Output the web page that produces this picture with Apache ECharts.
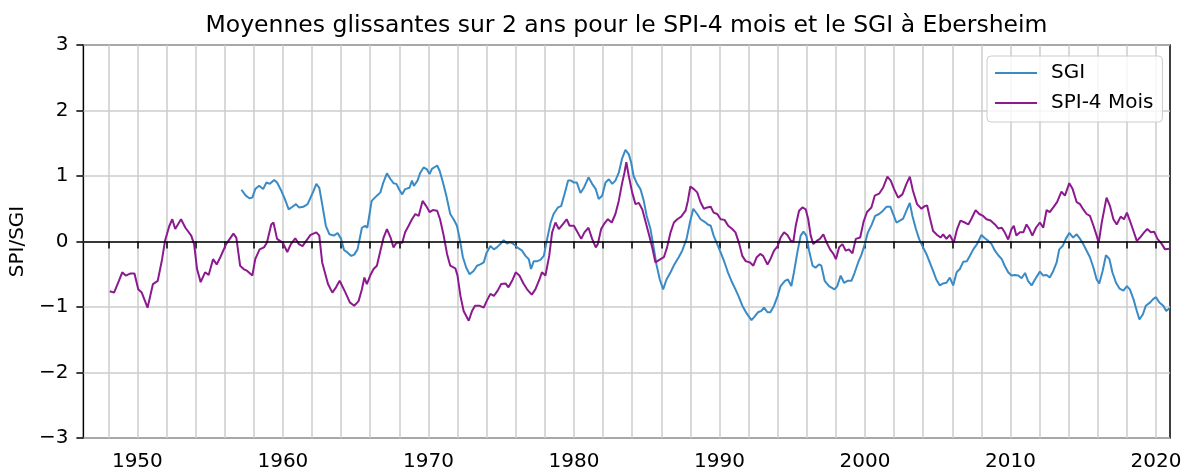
<!DOCTYPE html>
<html>
<head>
<meta charset="utf-8">
<script src="https://cdn.jsdelivr.net/npm/echarts@6/dist/echarts.min.js"></script>
<style>
  html, body { margin: 0; padding: 0; background: #fff; }
  #chart { width: 1189px; height: 472px; }
</style>
</head>
<body>
<div id="chart"></div>
<script>
// Two-year moving averages at Ebersheim, [decimal year, value]
const sgi = [
  [1957.15,0.79],[1957.45,0.70],[1957.7,0.66],[1957.9,0.67],[1958.1,0.80],[1958.37,0.85],[1958.64,0.80],[1958.87,0.90],
  [1959.1,0.88],[1959.4,0.94],[1959.6,0.90],[1959.9,0.77],[1960.13,0.65],[1960.4,0.49],[1960.66,0.53],[1960.9,0.57],
  [1961.1,0.52],[1961.4,0.53],[1961.7,0.57],[1961.9,0.67],[1962.1,0.77],[1962.3,0.88],[1962.5,0.82],[1962.7,0.57],
  [1962.95,0.24],[1963.2,0.11],[1963.5,0.09],[1963.76,0.13],[1964.0,0.04],[1964.2,-0.13],[1964.45,-0.17],[1964.7,-0.22],
  [1964.9,-0.20],[1965.13,-0.12],[1965.43,0.21],[1965.66,0.24],[1965.8,0.21],[1966.1,0.62],[1966.46,0.70],[1966.7,0.75],
  [1966.9,0.90],[1967.15,1.04],[1967.4,0.95],[1967.6,0.89],[1967.8,0.88],[1968.0,0.79],[1968.2,0.72],[1968.4,0.80],
  [1968.7,0.82],[1968.87,0.93],[1969.0,0.85],[1969.25,0.93],[1969.44,1.05],[1969.67,1.13],[1969.9,1.10],[1970.08,1.03],
  [1970.24,1.11],[1970.6,1.16],[1970.77,1.08],[1971.0,0.90],[1971.23,0.70],[1971.5,0.42],[1971.73,0.34],[1971.96,0.24],
  [1972.15,0.04],[1972.37,-0.24],[1972.6,-0.40],[1972.83,-0.50],[1973.1,-0.45],[1973.34,-0.37],[1973.57,-0.35],[1973.8,-0.32],
  [1974.0,-0.17],[1974.26,-0.07],[1974.5,-0.12],[1974.7,-0.09],[1974.94,-0.04],[1975.17,0.02],[1975.4,-0.03],[1975.63,-0.01],
  [1975.86,-0.04],[1976.1,-0.09],[1976.44,-0.14],[1976.67,-0.22],[1976.9,-0.27],[1977.05,-0.42],[1977.24,-0.30],[1977.47,-0.30],
  [1977.7,-0.28],[1977.93,-0.22],[1978.16,0.04],[1978.4,0.29],[1978.6,0.42],[1978.9,0.52],[1979.12,0.54],[1979.35,0.72],
  [1979.6,0.93],[1979.8,0.93],[1980.0,0.90],[1980.2,0.90],[1980.45,0.74],[1980.68,0.82],[1981.0,0.98],[1981.25,0.88],
  [1981.5,0.80],[1981.7,0.65],[1981.94,0.70],[1982.17,0.90],[1982.4,0.95],[1982.63,0.88],[1982.85,0.93],[1983.08,1.05],
  [1983.3,1.26],[1983.54,1.40],[1983.77,1.33],[1983.93,1.21],[1984.1,1.00],[1984.34,0.88],[1984.57,0.80],[1984.8,0.62],
  [1985.0,0.39],[1985.26,0.19],[1985.5,-0.12],[1985.67,-0.35],[1985.9,-0.58],[1986.13,-0.73],[1986.36,-0.58],[1986.64,-0.47],
  [1986.9,-0.35],[1987.2,-0.24],[1987.44,-0.14],[1987.74,0.04],[1987.97,0.29],[1988.2,0.50],[1988.47,0.42],[1988.7,0.34],
  [1988.98,0.30],[1989.2,0.26],[1989.4,0.24],[1989.6,0.09],[1989.9,-0.07],[1990.12,-0.19],[1990.35,-0.32],[1990.58,-0.47],
  [1990.88,-0.63],[1991.1,-0.73],[1991.34,-0.85],[1991.57,-0.98],[1991.9,-1.11],[1992.2,-1.20],[1992.4,-1.15],[1992.65,-1.08],
  [1992.88,-1.06],[1993.06,-1.01],[1993.3,-1.08],[1993.5,-1.08],[1993.75,-0.98],[1994.0,-0.83],[1994.2,-0.68],[1994.5,-0.60],
  [1994.7,-0.58],[1994.94,-0.68],[1995.12,-0.47],[1995.35,-0.17],[1995.58,0.09],[1995.77,0.15],[1995.97,0.09],[1996.16,-0.14],
  [1996.4,-0.37],[1996.6,-0.40],[1996.84,-0.35],[1997.0,-0.37],[1997.23,-0.60],[1997.53,-0.68],[1997.9,-0.73],[1998.1,-0.68],
  [1998.33,-0.52],[1998.56,-0.63],[1998.8,-0.60],[1999.07,-0.60],[1999.3,-0.47],[1999.53,-0.32],[1999.76,-0.20],[1999.99,-0.04],
  [2000.2,0.14],[2000.45,0.25],[2000.7,0.39],[2000.97,0.42],[2001.24,0.47],[2001.47,0.53],[2001.75,0.53],[2001.93,0.42],
  [2002.16,0.29],[2002.4,0.32],[2002.62,0.35],[2002.85,0.47],[2003.08,0.59],[2003.26,0.39],[2003.5,0.19],[2003.72,0.04],
  [2003.95,-0.07],[2004.22,-0.19],[2004.45,-0.32],[2004.68,-0.45],[2004.9,-0.58],[2005.14,-0.67],[2005.37,-0.64],[2005.6,-0.63],
  [2005.83,-0.55],[2006.06,-0.67],[2006.3,-0.47],[2006.52,-0.42],[2006.75,-0.31],[2007.0,-0.30],[2007.2,-0.22],[2007.44,-0.12],
  [2007.7,-0.04],[2008.0,0.10],[2008.24,0.05],[2008.47,0.01],[2008.7,-0.04],[2008.93,-0.14],[2009.16,-0.21],[2009.4,-0.27],
  [2009.6,-0.37],[2009.84,-0.47],[2010.07,-0.52],[2010.3,-0.51],[2010.53,-0.52],[2010.76,-0.56],[2011.0,-0.48],[2011.2,-0.60],
  [2011.45,-0.67],[2011.68,-0.58],[2012.02,-0.46],[2012.25,-0.52],[2012.48,-0.51],[2012.7,-0.55],[2012.94,-0.45],[2013.17,-0.32],
  [2013.35,-0.12],[2013.58,-0.07],[2013.8,0.04],[2014.04,0.13],[2014.3,0.06],[2014.55,0.11],[2014.78,0.04],[2015.0,-0.04],
  [2015.23,-0.14],[2015.46,-0.24],[2015.7,-0.40],[2015.92,-0.58],[2016.1,-0.64],[2016.33,-0.45],[2016.56,-0.21],[2016.8,-0.27],
  [2017.0,-0.47],[2017.25,-0.63],[2017.5,-0.72],[2017.76,-0.75],[2018.0,-0.68],[2018.2,-0.73],[2018.45,-0.88],[2018.68,-1.06],
  [2018.86,-1.19],[2019.1,-1.11],[2019.3,-0.98],[2019.6,-0.93],[2019.8,-0.88],[2020.0,-0.85],[2020.23,-0.93],[2020.5,-0.98],
  [2020.7,-1.06],[2020.92,-1.02]
];

const spi4 = [
  [1948.1,-0.76],[1948.4,-0.78],[1948.73,-0.60],[1948.96,-0.47],[1949.2,-0.52],[1949.5,-0.49],[1949.8,-0.49],[1950.06,-0.73],
  [1950.3,-0.78],[1950.7,-1.01],[1951.07,-0.65],[1951.4,-0.60],[1951.7,-0.27],[1951.9,0.01],[1952.2,0.24],[1952.4,0.34],
  [1952.6,0.19],[1953.0,0.34],[1953.3,0.21],[1953.7,0.09],[1953.9,-0.04],[1954.1,-0.42],[1954.35,-0.62],[1954.65,-0.47],
  [1954.9,-0.51],[1955.2,-0.27],[1955.45,-0.35],[1955.7,-0.24],[1956.1,-0.04],[1956.35,0.04],[1956.6,0.12],[1956.8,0.06],
  [1957.06,-0.37],[1957.3,-0.42],[1957.55,-0.45],[1957.9,-0.52],[1958.1,-0.27],[1958.4,-0.12],[1958.7,-0.09],[1958.9,-0.02],
  [1959.2,0.26],[1959.35,0.29],[1959.6,0.04],[1960.0,-0.02],[1960.3,-0.16],[1960.55,-0.04],[1960.85,0.05],[1961.1,-0.04],
  [1961.35,-0.07],[1961.6,0.01],[1961.9,0.10],[1962.3,0.14],[1962.5,0.09],[1962.7,-0.32],[1963.1,-0.65],[1963.4,-0.78],
  [1963.65,-0.70],[1963.9,-0.60],[1964.3,-0.78],[1964.6,-0.93],[1964.9,-0.98],[1965.2,-0.91],[1965.43,-0.73],[1965.6,-0.55],
  [1965.77,-0.65],[1966.0,-0.52],[1966.23,-0.42],[1966.46,-0.37],[1966.7,-0.14],[1966.92,0.06],[1967.15,0.19],[1967.4,0.06],
  [1967.6,-0.09],[1967.8,-0.02],[1968.0,-0.02],[1968.2,-0.02],[1968.4,0.14],[1968.64,0.24],[1968.87,0.34],[1969.1,0.42],
  [1969.33,0.39],[1969.6,0.62],[1969.85,0.54],[1970.08,0.45],[1970.3,0.48],[1970.6,0.47],[1970.8,0.34],[1971.05,0.09],
  [1971.28,-0.19],[1971.5,-0.37],[1971.85,-0.41],[1972.0,-0.52],[1972.2,-0.83],[1972.42,-1.06],[1972.77,-1.21],[1973.0,-1.06],
  [1973.2,-0.98],[1973.5,-0.98],[1973.8,-1.01],[1974.0,-0.91],[1974.26,-0.80],[1974.5,-0.83],[1974.76,-0.75],[1975.0,-0.65],
  [1975.3,-0.64],[1975.5,-0.70],[1975.75,-0.60],[1976.0,-0.47],[1976.25,-0.52],[1976.55,-0.65],[1976.78,-0.73],[1977.1,-0.81],
  [1977.35,-0.73],[1977.63,-0.58],[1977.8,-0.47],[1978.04,-0.52],[1978.3,-0.22],[1978.5,0.14],[1978.73,0.29],[1978.96,0.19],
  [1979.23,0.26],[1979.5,0.34],[1979.7,0.24],[1980.0,0.24],[1980.2,0.16],[1980.5,0.04],[1980.72,0.14],[1981.0,0.21],
  [1981.25,0.04],[1981.5,-0.09],[1981.64,-0.04],[1981.87,0.19],[1982.05,0.26],[1982.33,0.34],[1982.6,0.29],[1982.85,0.42],
  [1983.08,0.62],[1983.3,0.88],[1983.47,1.05],[1983.6,1.21],[1983.77,1.00],[1984.0,0.75],[1984.23,0.57],[1984.46,0.59],
  [1984.7,0.49],[1984.9,0.32],[1985.15,0.11],[1985.38,-0.09],[1985.6,-0.32],[1985.95,-0.27],[1986.18,-0.24],[1986.4,-0.09],
  [1986.64,0.14],[1986.87,0.29],[1987.1,0.34],[1987.37,0.38],[1987.67,0.47],[1987.83,0.62],[1988.0,0.84],[1988.24,0.80],
  [1988.47,0.75],[1988.7,0.60],[1988.93,0.50],[1989.16,0.52],[1989.4,0.53],[1989.6,0.44],[1989.85,0.42],[1990.08,0.34],
  [1990.35,0.33],[1990.6,0.24],[1990.88,0.19],[1991.1,0.14],[1991.34,-0.02],[1991.57,-0.22],[1991.8,-0.30],[1992.1,-0.32],
  [1992.33,-0.37],[1992.56,-0.24],[1992.8,-0.19],[1993.0,-0.22],[1993.3,-0.35],[1993.5,-0.27],[1993.75,-0.14],[1994.0,-0.07],
  [1994.2,0.06],[1994.44,0.14],[1994.67,0.10],[1994.9,0.01],[1995.08,0.0],[1995.24,0.24],[1995.47,0.47],[1995.7,0.52],
  [1995.93,0.49],[1996.1,0.34],[1996.27,0.09],[1996.45,-0.04],[1996.68,0.01],[1996.9,0.04],[1997.14,0.11],[1997.37,-0.02],
  [1997.6,-0.12],[1997.83,-0.19],[1998.0,-0.27],[1998.22,-0.09],[1998.45,-0.04],[1998.68,-0.14],[1998.9,-0.12],[1999.14,-0.18],
  [1999.37,0.04],[1999.67,0.06],[1999.9,0.30],[2000.14,0.45],[2000.44,0.52],[2000.67,0.70],[2000.97,0.73],[2001.24,0.82],
  [2001.54,0.99],[2001.77,0.93],[2002.0,0.80],[2002.28,0.67],[2002.57,0.72],[2002.85,0.88],[2003.08,0.99],[2003.3,0.77],
  [2003.58,0.57],[2003.88,0.50],[2004.1,0.54],[2004.27,0.55],[2004.45,0.37],[2004.68,0.16],[2004.96,0.10],[2005.19,0.06],
  [2005.37,0.11],[2005.6,0.04],[2005.83,0.10],[2006.1,-0.02],[2006.33,0.19],[2006.56,0.32],[2006.86,0.29],[2007.1,0.26],
  [2007.3,0.34],[2007.6,0.48],[2007.85,0.42],[2008.12,0.39],[2008.35,0.34],[2008.63,0.32],[2008.93,0.26],[2009.16,0.20],
  [2009.4,0.21],[2009.6,0.14],[2009.84,0.03],[2010.07,0.19],[2010.23,0.24],[2010.4,0.09],[2010.65,0.14],[2010.88,0.14],
  [2011.1,0.26],[2011.3,0.19],[2011.5,0.09],[2011.75,0.21],[2012.02,0.29],[2012.25,0.21],[2012.48,0.48],[2012.7,0.45],
  [2012.94,0.52],[2013.2,0.60],[2013.5,0.76],[2013.74,0.70],[2014.04,0.89],[2014.27,0.80],[2014.55,0.60],[2014.78,0.57],
  [2015.0,0.49],[2015.23,0.42],[2015.46,0.39],[2015.7,0.24],[2015.92,0.09],[2016.06,-0.02],[2016.27,0.29],[2016.6,0.67],
  [2016.84,0.54],[2017.07,0.34],[2017.3,0.26],[2017.57,0.38],[2017.8,0.34],[2018.0,0.44],[2018.2,0.32],[2018.45,0.16],
  [2018.68,0.01],[2018.9,0.06],[2019.18,0.14],[2019.4,0.19],[2019.64,0.14],[2019.87,0.15],[2020.1,0.04],[2020.4,-0.04],
  [2020.62,-0.12],[2020.92,-0.11]
];

// Axis ticks: grid/tick marks every two years, labels every decade
const xTickYears = [1948,1950,1952,1954,1956,1958,1960,1962,1964,1966,1968,1970,1972,1974,1976,1978,1980,1982,1984,
  1986,1988,1990,1992,1994,1996,1998,2000,2002,2004,2006,2008,2010,2012,2014,2016,2018,2020];
const xLabelYears = [1950,1960,1970,1980,1990,2000,2010,2020];

const FONT = 'DejaVu Sans';
const chart = echarts.init(document.getElementById('chart'), null, { renderer: 'canvas' });

chart.setOption({
  animation: false,
  backgroundColor: '#ffffff',
  title: {
    text: 'Moyennes glissantes sur 2 ans pour le SPI-4 mois et le SGI à Ebersheim',
    left: 626.5,
    top: 12,
    padding: 0,
    textAlign: 'center',
    textStyle: { fontFamily: FONT, fontSize: 23.5, fontWeight: 'normal', color: '#000', lineHeight: 28 }
  },
  legend: {
    data: ['SGI', 'SPI-4 Mois'],
    orient: 'vertical',
    left: 987,
    top: 56,
    padding: [7, 9, 9, 8],
    itemGap: 10,
    itemWidth: 42,
    itemHeight: 2,
    icon: 'rect',
    backgroundColor: 'rgba(255,255,255,0.8)',
    borderColor: '#cccccc',
    borderWidth: 1,
    borderRadius: 4,
    textStyle: { fontFamily: FONT, fontSize: 20, color: '#000', lineHeight: 20, padding: [0, 0, 0, 9] }
  },
  grid: {
    left: 83, right: 19, top: 45, bottom: 34,
    show: true, borderColor: '#000', borderWidth: 1.5, backgroundColor: 'transparent'
  },
  xAxis: {
    type: 'value',
    min: 1946.29,
    max: 2020.96,
    axisLine: { show: false },
    axisTick: { show: true, length: 7, lineStyle: { color: '#000', width: 1.5 }, customValues: xTickYears },
    axisLabel: {
      customValues: xLabelYears, margin: 14, fontFamily: FONT, fontSize: 20, color: '#000',
      formatter: v => String(v)
    },
    splitLine: { show: true, lineStyle: { color: '#cccccc', width: 1.5 } }
  },
  yAxis: {
    type: 'value',
    min: -3, max: 3, interval: 1,
    name: 'SPI/SGI',
    nameLocation: 'middle',
    nameGap: 53,
    nameTextStyle: { fontFamily: FONT, fontSize: 20, color: '#000' },
    axisLine: { show: false },
    axisTick: { show: true, length: 7, lineStyle: { color: '#000', width: 1.5 } },
    axisLabel: {
      margin: 15, fontFamily: FONT, fontSize: 20, color: '#000',
      formatter: v => (v < 0 ? '\u2212' + Math.abs(v) : String(v))
    },
    splitLine: { show: true, lineStyle: { color: '#cccccc', width: 1.5 } }
  },
  series: [
    {
      name: 'SGI', type: 'line', data: sgi, showSymbol: false, symbol: 'none',
      color: '#3a8bc5', lineStyle: { color: '#3a8bc5', width: 2 }, z: 3
    },
    {
      name: 'SPI-4 Mois', type: 'line', data: spi4, showSymbol: false, symbol: 'none',
      color: '#8c1a8f', lineStyle: { color: '#8c1a8f', width: 2 }, z: 4,
      markLine: {
        silent: true, symbol: ['none', 'none'], label: { show: false },
        lineStyle: { color: '#000', width: 1.5, type: 'solid' },
        data: [{ yAxis: 0 }]
      }
    }
  ]
});
</script>
</body>
</html>
